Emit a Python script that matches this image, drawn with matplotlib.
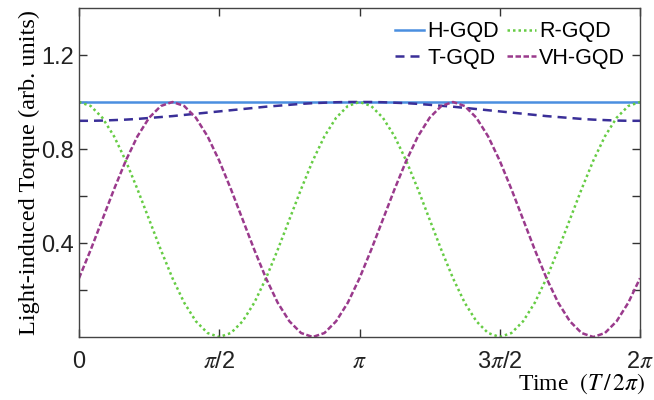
import numpy as np
import matplotlib
matplotlib.use('Agg')
import matplotlib.pyplot as plt

plt.rcParams['font.family'] = ['Liberation Sans', 'DejaVu Sans']
plt.rcParams['mathtext.fontset'] = 'stix'

# valeurs, un point tous les pi/24 de 0 a 2pi
phase = np.linspace(0, 2 * np.pi, 49)

h_gqd = [1.0] * len(phase)

r_gqd = [1.000, 0.983, 0.933, 0.854, 0.750, 0.629, 0.500, 0.371, 0.250, 0.146, 0.067, 0.017,
         0.000, 0.017, 0.067, 0.146, 0.250, 0.371, 0.500, 0.629, 0.750, 0.854, 0.933, 0.983,
         1.000, 0.983, 0.933, 0.854, 0.750, 0.629, 0.500, 0.371, 0.250, 0.146, 0.067, 0.017,
         0.000, 0.017, 0.067, 0.146, 0.250, 0.371, 0.500, 0.629, 0.750, 0.854, 0.933, 0.983,
         1.000]

t_gqd = [0.920, 0.920, 0.921, 0.923, 0.925, 0.928, 0.932, 0.936, 0.940, 0.945, 0.950, 0.955,
         0.960, 0.965, 0.970, 0.975, 0.980, 0.984, 0.988, 0.992, 0.995, 0.997, 0.999, 1.000,
         1.000, 1.000, 0.999, 0.997, 0.995, 0.992, 0.988, 0.984, 0.980, 0.975, 0.970, 0.965,
         0.960, 0.955, 0.950, 0.945, 0.940, 0.936, 0.932, 0.928, 0.925, 0.923, 0.921, 0.920,
         0.920]

vh_gqd = [0.250, 0.371, 0.500, 0.629, 0.750, 0.854, 0.933, 0.983, 1.000, 0.983, 0.933, 0.854,
          0.750, 0.629, 0.500, 0.371, 0.250, 0.146, 0.067, 0.017, 0.000, 0.017, 0.067, 0.146,
          0.250, 0.371, 0.500, 0.629, 0.750, 0.854, 0.933, 0.983, 1.000, 0.983, 0.933, 0.854,
          0.750, 0.629, 0.500, 0.371, 0.250, 0.146, 0.067, 0.017, 0.000, 0.017, 0.067, 0.146,
          0.250]

x_ticks = [0, np.pi / 2, np.pi, 3 * np.pi / 2, 2 * np.pi]
x_tick_labels = ['0', r'$\pi$/2', r'$\pi$', r'3$\pi$/2', r'2$\pi$']
y_ticks = [0.4, 0.8, 1.2]
y_minor = [0.2, 0.6, 1.0]

fig = plt.figure(figsize=(6.54, 4.0), dpi=100)
ax = fig.add_axes([0.1208, 0.1575, 0.8578, 0.8225])

l_h, = ax.plot(phase, h_gqd, color='#4a8fe0', lw=1.8, label='H-GQD')
l_t, = ax.plot(phase, t_gqd, color='#3a2f98', lw=1.8, ls=(0, (3.6, 2.4)), label='T-GQD')
l_r, = ax.plot(phase, r_gqd, color='#66cc44', lw=1.8, ls=(0, (1, 1.2)), label='R-GQD')
l_vh, = ax.plot(phase, vh_gqd, color='#9a3a8c', lw=1.8, ls=(0, (2.2, 1.0)), label='VH-GQD')

ax.set_xlim(0, 2 * np.pi)
ax.set_ylim(0, 1.4)
ax.set_xticks(x_ticks)
ax.set_xticklabels(x_tick_labels)
ax.set_yticks(y_ticks)
ax.set_yticks(y_minor, minor=True)
ax.tick_params(which='both', direction='in', top=True, right=True, colors='#333333',
               labelcolor='#222222', labelsize=17, length=6, width=1)
ax.tick_params(axis='x', pad=10)
for s in ax.spines.values():
    s.set_color('#444444')
    s.set_linewidth(1.0)

ax.set_ylabel('Light-induced Torque (arb. units)', family='Liberation Serif', fontsize=17.5,
              labelpad=1)
ax.set_xlabel(r'Time  $(T\,/\,2\pi)$', family='Liberation Serif', fontsize=17)
ax.xaxis.set_label_coords(1.01, -0.105)
ax.xaxis.label.set_horizontalalignment('right')

ax.legend(handles=[l_h, l_t, l_r, l_vh], ncol=2, loc='upper right', frameon=False,
          fontsize=15.5, handlelength=1.35, handletextpad=0.15, columnspacing=0.35,
          labelspacing=0.25, bbox_to_anchor=(1.0, 1.005), borderpad=0.2)

fig.savefig('out.png', dpi=100)
